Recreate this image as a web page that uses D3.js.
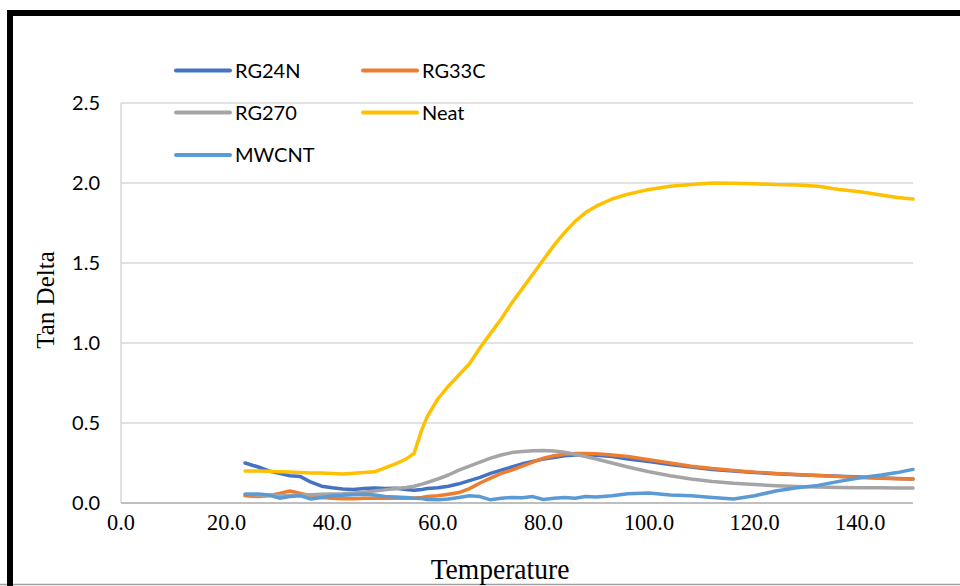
<!DOCTYPE html>
<html>
<head>
<meta charset="utf-8">
<script src="https://cdn.jsdelivr.net/npm/d3@7"></script>
<style>
  html, body { margin: 0; padding: 0; background: #fff; }
  svg { display: block; }
</style>
</head>
<body>
<div id="chart"></div>
<script>
// temperature points shared by every series
var temps = [23.5, 26, 28, 30, 32, 34, 36, 38, 40, 42, 44, 46, 48, 50, 52, 54, 55.5, 57, 58, 60,
  62, 64, 66, 68, 70, 72, 74, 76, 78, 80, 82, 84, 86, 88, 90, 93, 96, 100, 104, 108,
  112, 116, 120, 124, 128, 132, 136, 140, 144, 147, 150];

var rg24n = [0.25, 0.225, 0.20, 0.185, 0.17, 0.165, 0.13, 0.105, 0.095, 0.088, 0.085, 0.09, 0.093, 0.09, 0.092, 0.085, 0.08, 0.085, 0.09, 0.095,
  0.105, 0.12, 0.14, 0.16, 0.185, 0.205, 0.225, 0.245, 0.26, 0.275, 0.285, 0.295, 0.30, 0.30, 0.298, 0.29, 0.275, 0.26, 0.24, 0.225,
  0.21, 0.20, 0.19, 0.183, 0.177, 0.172, 0.167, 0.162, 0.157, 0.153, 0.15];

var rg33c = [0.045, 0.04, 0.045, 0.06, 0.075, 0.06, 0.045, 0.035, 0.03, 0.027, 0.027, 0.03, 0.03, 0.03, 0.03, 0.03, 0.032, 0.035, 0.04, 0.045,
  0.055, 0.065, 0.09, 0.125, 0.155, 0.185, 0.205, 0.23, 0.255, 0.28, 0.295, 0.305, 0.31, 0.31, 0.308, 0.30, 0.29, 0.27, 0.25, 0.23,
  0.215, 0.203, 0.193, 0.185, 0.178, 0.172, 0.166, 0.16, 0.155, 0.152, 0.15];

var rg270 = [0.055, 0.05, 0.048, 0.045, 0.047, 0.05, 0.052, 0.055, 0.056, 0.058, 0.062, 0.068, 0.075, 0.082, 0.09, 0.097, 0.105, 0.118, 0.128, 0.15,
  0.175, 0.205, 0.23, 0.255, 0.28, 0.30, 0.315, 0.322, 0.327, 0.328, 0.325, 0.318, 0.305, 0.29, 0.275, 0.25, 0.225, 0.195, 0.17, 0.15,
  0.135, 0.123, 0.115, 0.108, 0.103, 0.10, 0.097, 0.096, 0.095, 0.094, 0.093];

var neat = [0.20, 0.20, 0.198, 0.195, 0.193, 0.19, 0.188, 0.187, 0.184, 0.182, 0.186, 0.19, 0.195, 0.22, 0.245, 0.275, 0.31, 0.46, 0.54, 0.65,
  0.73, 0.80, 0.87, 0.97, 1.06, 1.15, 1.25, 1.34, 1.43, 1.52, 1.61, 1.69, 1.76, 1.815, 1.855, 1.9, 1.93, 1.96, 1.98, 1.99,
  2.0, 1.998, 1.995, 1.99, 1.988, 1.98, 1.96, 1.945, 1.925, 1.91, 1.90];

var mwcnt = [0.055, 0.057, 0.05, 0.03, 0.04, 0.045, 0.025, 0.035, 0.045, 0.048, 0.052, 0.055, 0.05, 0.04, 0.038, 0.035, 0.03, 0.028, 0.022, 0.02,
  0.025, 0.035, 0.045, 0.04, 0.02, 0.03, 0.035, 0.033, 0.04, 0.022, 0.03, 0.035, 0.03, 0.04, 0.038, 0.045, 0.058, 0.062, 0.05, 0.045,
  0.035, 0.025, 0.045, 0.075, 0.095, 0.11, 0.135, 0.158, 0.175, 0.19, 0.21];

var seriesNames = ["RG24N", "RG33C", "RG270", "Neat", "MWCNT"];
var seriesValues = [rg24n, rg33c, rg270, neat, mwcnt];
var colors = ["#4472c4", "#ed7d31", "#a5a5a5", "#ffc000", "#5b9bd5"];

var xTicks = [0, 20, 40, 60, 80, 100, 120, 140];
var yTicks = [0, 0.5, 1.0, 1.5, 2.0, 2.5];

var width = 960, height = 586;
var plot = {left: 121, right: 913, top: 103, bottom: 503};

var svg = d3.select('#chart').append('svg')
  .attr('width', width)
  .attr('height', height);

var x = d3.scaleLinear().domain([0, 150]).range([plot.left, plot.right]);
var y = d3.scaleLinear().domain([0, 2.5]).range([plot.bottom, plot.top]);

// outer frame
svg.append('line').attr('x1', 0).attr('x2', width).attr('y1', 584.5).attr('y2', 584.5)
  .style('stroke', '#a0a0a0').style('stroke-width', 1.5);
svg.append('path')
  .attr('d', 'M10,586 L10,13 L960,13')
  .style('fill', 'none').style('stroke', '#000').style('stroke-width', 6);

// gridlines
svg.append('g')
  .selectAll('line')
  .data(yTicks.slice(1))
  .enter()
  .append('line')
  .attr('x1', plot.left).attr('x2', plot.right)
  .attr('y1', d => y(d)).attr('y2', d => y(d))
  .style('stroke', '#d9d9d9').style('stroke-width', 1.5);

// left edge of plot area
svg.append('line')
  .attr('x1', plot.left).attr('x2', plot.left)
  .attr('y1', plot.top).attr('y2', plot.bottom)
  .style('stroke', '#d9d9d9').style('stroke-width', 1.5);

// x axis line
svg.append('line')
  .attr('x1', plot.left).attr('x2', plot.right)
  .attr('y1', y(0)).attr('y2', y(0))
  .style('stroke', '#bfbfbf').style('stroke-width', 2);

// y tick labels
svg.append('g')
  .selectAll('text')
  .data(yTicks)
  .enter()
  .append('text')
  .attr('x', 100)
  .attr('y', d => y(d) + 7)
  .attr('text-anchor', 'end')
  .style('font-family', 'Lato, sans-serif')
  .style('font-size', '20px')
  .style('fill', '#000')
  .text(d => d.toFixed(1));

// x tick labels (slightly condensed serif)
svg.append('g')
  .selectAll('text')
  .data(xTicks)
  .enter()
  .append('text')
  .attr('transform', d => 'translate(' + x(d) + ',530) scale(0.93,1)')
  .attr('text-anchor', 'middle')
  .style('font-family', '"Liberation Serif", serif')
  .style('font-size', '24px')
  .style('fill', '#000')
  .text(d => d.toFixed(1));

// axis titles
svg.append('text')
  .attr('transform', 'translate(54,300) rotate(-90)')
  .attr('text-anchor', 'middle')
  .style('font-family', '"Liberation Serif", serif')
  .style('font-size', '25px')
  .text('Tan Delta');

svg.append('text')
  .attr('transform', 'translate(500,579) scale(0.95,1)')
  .attr('text-anchor', 'middle')
  .style('font-family', '"Liberation Serif", serif')
  .style('font-size', '29px')
  .text('Temperature');

// series lines
var line = d3.line()
  .x((d, i) => x(temps[i]))
  .y(d => y(d));

svg.append('g')
  .selectAll('path')
  .data(seriesValues)
  .enter()
  .append('path')
  .attr('d', line)
  .style('fill', 'none')
  .style('stroke', (d, i) => colors[i])
  .style('stroke-width', 3.5)
  .style('stroke-linejoin', 'round')
  .style('stroke-linecap', 'round');

// legend, two columns
var legendPos = [[176, 70.5], [363, 70.5], [176, 112.5], [363, 112.5], [176, 155]];

var legend = svg.append('g')
  .selectAll('g')
  .data(seriesNames)
  .enter()
  .append('g')
  .attr('transform', (d, i) => 'translate(' + legendPos[i] + ')');

legend.append('line')
  .attr('x1', 0).attr('x2', 54)
  .attr('y1', 0).attr('y2', 0)
  .style('stroke', (d, i) => colors[i])
  .style('stroke-width', 4)
  .style('stroke-linecap', 'round');

legend.append('text')
  .attr('x', 59)
  .attr('y', 7)
  .style('font-family', 'Lato, sans-serif')
  .style('font-size', '20px')
  .style('fill', '#000')
  .text(d => d);
</script>
</body>
</html>
